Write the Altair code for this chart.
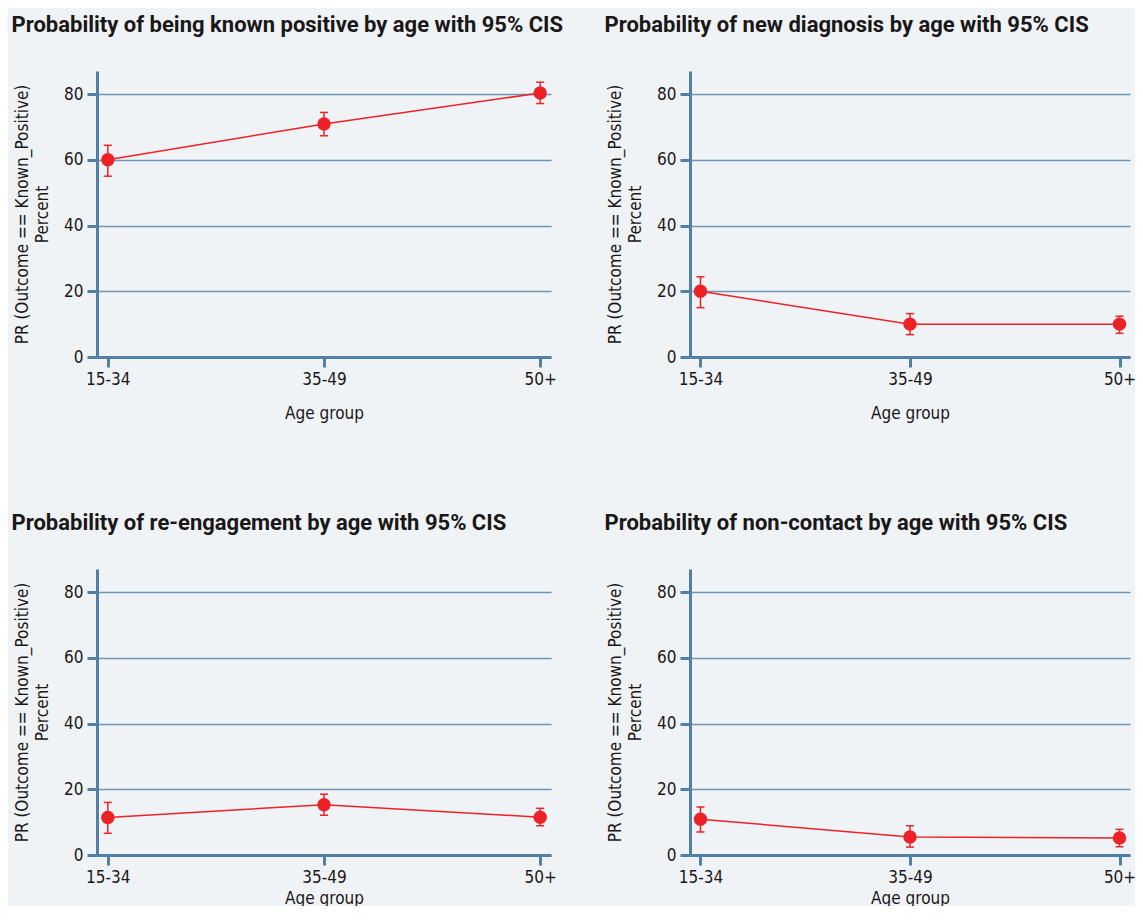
import altair as alt
import pandas as pd

ages = ["15-34", "35-49", "50+"]
tick_values = [0, 20, 40, 60, 80]

titles = [
    "Probability of being known positive by age with 95% CIS",
    "Probability of new diagnosis by age with 95% CIS",
    "Probability of re-engagement by age with 95% CIS",
    "Probability of non-contact by age with 95% CIS",
]

known_pr = [60.0, 70.9, 80.3]
known_lo = [55.0, 67.3, 77.1]
known_hi = [64.4, 74.4, 83.6]

newdx_pr = [20.0, 10.0, 10.0]
newdx_lo = [15.0, 6.8, 7.2]
newdx_hi = [24.4, 13.2, 12.4]

reeng_pr = [11.4, 15.3, 11.5]
reeng_lo = [6.6, 12.1, 8.9]
reeng_hi = [16.0, 18.5, 14.2]

nonc_pr = [10.9, 5.5, 5.2]
nonc_lo = [7.0, 2.4, 2.5]
nonc_hi = [14.6, 8.9, 7.8]

series = [
    (known_pr, known_lo, known_hi),
    (newdx_pr, newdx_lo, newdx_hi),
    (reeng_pr, reeng_lo, reeng_hi),
    (nonc_pr, nonc_lo, nonc_hi),
]

RED = "#ec2227"
AXIS = "#5180a6"
GRID = "#6b94b8"
TEXT = "#1a1718"
BG = "#f0f3f5"
LABEL_FONT = "DejaVu Sans Condensed, Liberation Sans Narrow, DejaVu Sans, sans-serif"
TITLE_FONT = "Roboto, Liberation Sans, sans-serif"

# layout (pixels)
H = 286
COL_SP, ROW_SP = 139, 212
PAD_L, PAD_T = 89, 63
SVG_W, SVG_H = 1127, 898
# per panel: plot width, x-axis title padding
PANEL_LAYOUT = [(454, 18), (440, 18), (454, 5), (440, 5)]

Y_TITLE = ["PR (Outcome == Known_Positive)", "Percent"]


def panel(title, pr, lo, hi, width, x_title_pad):
    df = pd.DataFrame({"age": ages, "pr": pr, "lo": lo, "hi": hi})
    xenc = alt.X(
        "age:N",
        sort=ages,
        scale=alt.Scale(type="point", padding=0.05),
        axis=alt.Axis(title="Age group", labelAngle=0, grid=False, titlePadding=x_title_pad),
    )
    yscale = alt.Scale(domain=[0, 87], nice=False, zero=True)
    yaxis = alt.Axis(values=tick_values, title=Y_TITLE, grid=True)

    def yenc(field):
        return alt.Y(field, scale=yscale, axis=yaxis, title=Y_TITLE)

    base = alt.Chart(df).encode(x=xenc)
    line = base.mark_line(color=RED, strokeWidth=1.5).encode(y=yenc("pr:Q"))
    rule = base.mark_rule(color=RED, strokeWidth=1.5).encode(y=yenc("lo:Q"), y2="hi:Q")
    cap_lo = base.mark_tick(color=RED, thickness=1.5, size=8, opacity=1).encode(y=yenc("lo:Q"))
    cap_hi = base.mark_tick(color=RED, thickness=1.5, size=8, opacity=1).encode(y=yenc("hi:Q"))
    pts = base.mark_point(filled=True, size=180, color=RED, opacity=1).encode(y=yenc("pr:Q"))
    return alt.layer(line, rule, cap_lo, cap_hi, pts).properties(
        width=width,
        height=H,
        title=alt.TitleParams(
            title,
            anchor="start",
            frame="bounds",
            offset=34,
            dx=-2,
            font=TITLE_FONT,
            fontSize=22,
            fontWeight="bold",
            color=TEXT,
        ),
    )


panels = [panel(t, *s, *lay) for t, s, lay in zip(titles, series, PANEL_LAYOUT)]

chart = (
    alt.concat(*panels, columns=2, spacing={"row": ROW_SP, "column": COL_SP}, bounds="flush")
    .properties(
        background=BG,
        autosize=alt.AutoSizeParams(type="none"),
        padding={"left": PAD_L, "top": PAD_T, "right": SVG_W - PAD_L, "bottom": SVG_H - PAD_T},
    )
    .configure_view(stroke=None, fill=None)
    .configure_axis(
        domainColor=AXIS,
        domainWidth=3,
        tickColor=AXIS,
        tickWidth=3,
        tickSize=10,
        labelFont=LABEL_FONT,
        labelFontSize=17,
        labelColor=TEXT,
        labelPadding=4,
        titleFont=LABEL_FONT,
        titleFontSize=17,
        titleFontWeight="normal",
        titleColor=TEXT,
        titlePadding=12,
        titleLineHeight=20,
        gridColor=GRID,
        gridWidth=1.3,
    )
)

chart.save("out.html", embed_options={"renderer": "svg", "actions": False})
